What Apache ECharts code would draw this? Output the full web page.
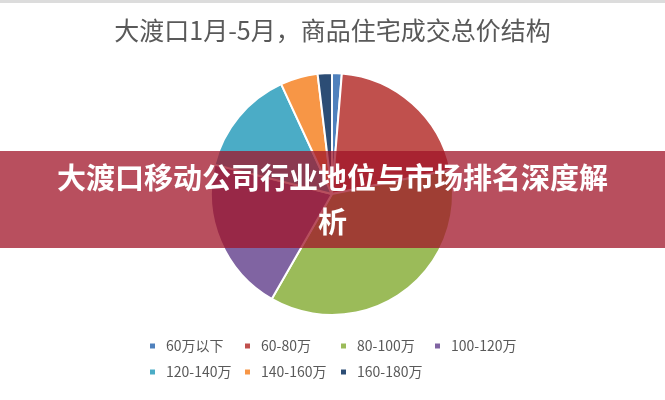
<!DOCTYPE html>
<html>
<head>
<meta charset="utf-8">
<script src="https://cdn.jsdelivr.net/npm/echarts@6/dist/echarts.min.js"></script>
<style>html,body{margin:0;padding:0;background:#fff;}#c{width:665px;height:400px;}</style>
</head>
<body>
<div id="c"></div>
<script>
var categories = ['60万以下', '60-80万', '80-100万', '100-120万', '120-140万', '140-160万', '160-180万'];
var shares = [1.3, 20.5, 36.5, 20.6, 14.2, 5.0, 1.9];
var colors = ['#4F81BD', '#C0504D', '#9BBB59', '#8064A2', '#4BACC6', '#F79646', '#2C4D75'];
var titleText = '大渡口1月-5月，商品住宅成交总价结构';
var bannerText = '大渡口移动公司行业地位与市场排名深度解\n析';

var chart = echarts.init(document.getElementById('c'), null, {renderer: 'canvas'});
var legendCols = [143, 238, 334, 428];
var legendRows = [334, 360];
var legends = categories.map(function (c, i) {
  return {
    orient: 'horizontal',
    icon: 'rect',
    itemWidth: 7,
    itemHeight: 7,
    selectedMode: false,
    left: legendCols[i % 4],
    top: legendRows[Math.floor(i / 4)],
    data: [c],
    textStyle: {
      fontFamily: 'Noto Sans CJK SC',
      fontSize: 14,
      color: '#595959',
      padding: [0, 0, 0, 5]
    }
  };
});
chart.setOption({
  animation: false,
  color: colors,
  title: {
    text: titleText,
    left: 'center',
    top: 13,
    textStyle: {fontFamily: 'Noto Sans CJK SC', fontSize: 25, fontWeight: 'normal', color: '#595959'}
  },
  legend: legends,
  series: [{
    type: 'pie',
    center: [332, 194],
    radius: 121,
    startAngle: 90,
    clockwise: true,
    label: {show: false},
    labelLine: {show: false},
    emphasis: {disabled: true},
    itemStyle: {borderColor: '#ffffff', borderWidth: 2},
    data: categories.map(function (c, i) { return {name: c, value: shares[i]}; })
  }],
  graphic: [
    {type: 'rect', z: 100, shape: {x: 0, y: 0, width: 665, height: 3}, style: {fill: '#dcdcdc'}},
    {type: 'rect', z: 100, shape: {x: 0, y: 151, width: 665, height: 97}, style: {fill: 'rgba(160,20,40,0.75)'}},
    {type: 'text', z: 101, x: 332.5, y: 200,
      style: {text: bannerText, fill: '#ffffff', font: 'bold 29px "Noto Sans CJK SC"', align: 'center', verticalAlign: 'middle', lineHeight: 44}}
  ]
});
</script>
</body>
</html>
